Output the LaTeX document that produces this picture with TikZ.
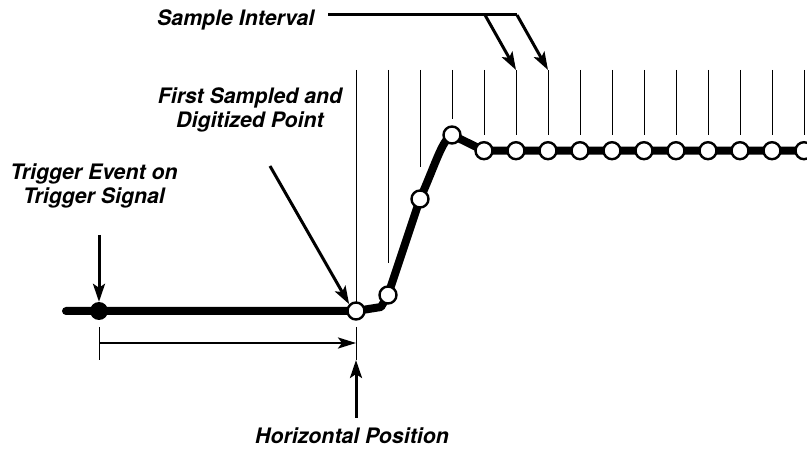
\documentclass[tikz,border=0pt]{standalone}
\usepackage{fontspec}
\setmainfont{TeX Gyre Heros}
\usetikzlibrary{arrows.meta}
\begin{document}
\begin{tikzpicture}[x=1pt,y=-1pt,
  lbl/.style={font=\fontsize{21.3}{24.5}\selectfont\bfseries\itshape, align=center, inner sep=0pt},
  gridline/.style={line width=1pt},
  sig/.style={line width=8pt, line join=round, line cap=round},
  samp/.style={circle, draw, line width=2.4pt, fill=white, minimum size=17pt, inner sep=0pt},
  trig/.style={circle, fill=black, minimum size=18pt, inner sep=0pt},
  ptr/.style={line width=3pt, -{Stealth[length=18pt,width=12pt,inset=4pt]}},
  dim/.style={line width=2.6pt, -{Stealth[length=18pt,width=11pt,inset=4pt]}},
  ]
\useasboundingbox (0,0) rectangle (807,449);
\clip (0,0) rectangle (807,449);

% sample grid lines
\foreach \k/\b in {0/311,1/263,2/167,3/119,4/135,5/135,6/135,7/135,8/135,9/135,10/135,11/135,12/135,13/135,14/135}{
  \coordinate (t\k) at ({356+32*\k},70);
  \coordinate (b\k) at ({356+32*\k},\b);
  \draw[gridline] (t\k) -- (b\k);
}

% sample point positions
\coordinate (p0) at (356,311);
\coordinate (p1) at (388,295);
\coordinate (p2) at (420,199);
\coordinate (p3) at (452,135);
\foreach \k in {4,...,14}{ \coordinate (p\k) at ({356+32*\k},150.7); }
\coordinate (sigL) at (66,311);
\coordinate (kink) at (381,307);
\coordinate (sigR) at (815,150.7);
\coordinate (trigpt) at (99,311);

% signal
\draw[sig] (sigL) -- (trigpt) -- (p0) -- (kink) -- (p1) -- (p2) .. controls (436,163) and (442,140) .. (p3) -- (p4) -- (sigR);

% samples
\node[trig] (trigdot) at (trigpt) {};
\foreach \k in {0,...,14}{ \node[samp] (s\k) at (p\k) {}; }

% dimension line
\coordinate (lt1) at (99,327);
\coordinate (lt2) at (99,360);
\coordinate (rt1) at (356,327);
\coordinate (rt2) at (356,360);
\draw[gridline] (lt1) -- (lt2);
\draw[gridline] (rt1) -- (rt2);
\coordinate (dimL) at (99,343);
\coordinate (dimR) at (356,343);
\draw[dim] (dimL) -- (dimR);

% labels
\node[lbl, anchor=base west] (si) at (157,26) {Sample Interval};
\node[lbl, anchor=base] (fs) at (250,127.7) {First Sampled and\\Digitized Point};
\node[lbl, anchor=base] (te) at (94,204) {Trigger Event on\\Trigger Signal};
\node[lbl, anchor=base] (hp) at (352,443.5) {Horizontal Position};

% sample interval pointers
\coordinate (siA) at (328,15);
\coordinate (siB) at (485,15);
\coordinate (siC) at (517,15);
\draw[line width=3pt] (siA) -- (siC);
\draw[ptr] (siB) -- (t5);
\draw[ptr] (siC) -- (t6);

% other pointers
\coordinate (fsA) at (270,166);
\draw[ptr] (fsA) -- (s0.north west);
\coordinate (teA) at (99,235);
\draw[ptr] (teA) -- (trigdot.north);
\coordinate (hpA) at (356,418);
\draw[ptr] (hpA) -- (rt2);
\end{tikzpicture}
\end{document}
